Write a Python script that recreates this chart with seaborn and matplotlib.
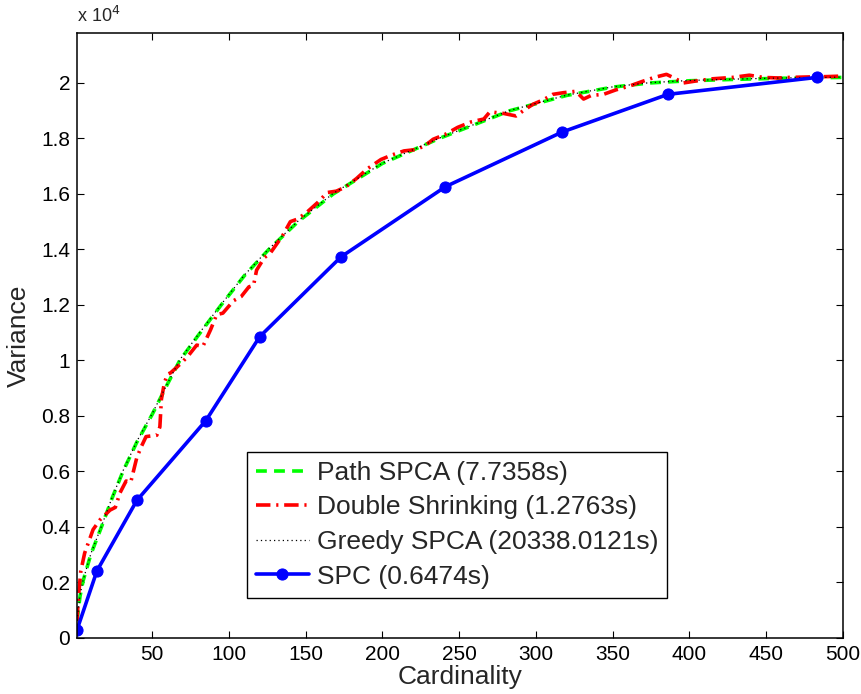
import matplotlib
matplotlib.use("Agg")
import matplotlib.pyplot as plt
import seaborn as sns
import pandas as pd
from matplotlib.ticker import FixedLocator, FixedFormatter

# ---- data ----
path_x = [1, 3, 5, 10, 17, 24, 31, 40, 50, 60, 68, 80, 95, 110, 126, 145, 168, 200, 237, 260, 283, 320, 350, 374, 400, 430, 460, 500]
path_y = [600, 1500, 2050, 3000, 4000, 5050, 6000, 7050, 8050, 9150, 10000, 10900, 12000, 13050, 14000, 15000, 16000, 17100, 18000, 18500, 19000, 19550, 19850, 20000, 20080, 20130, 20170, 20200]

greedy_x = [1, 3, 5, 10, 17, 24, 31, 40, 50, 60, 68, 80, 95, 110, 126, 145, 168, 200, 237, 260, 283, 320, 350, 374, 400, 430, 460, 500]
greedy_y = [620, 1530, 2080, 3020, 4030, 5070, 6020, 7080, 8080, 9170, 10020, 10930, 12020, 13070, 14020, 15020, 16020, 17110, 18010, 18510, 19010, 19560, 19860, 20010, 20090, 20140, 20180, 20210]

ds_x = [1, 2, 3.5, 6, 11.5, 16, 22.5, 26, 29, 33, 36, 40, 43, 46, 50, 53, 55, 56, 58, 60, 62, 66, 70, 74, 79, 83, 88, 92, 96, 103, 108, 113, 116, 118, 123, 127, 135, 140, 144, 150, 158, 164, 170, 176, 183, 190, 199, 206, 214, 222, 228, 233, 241, 249, 258, 266, 270, 279, 287, 293, 298, 305, 311, 318, 326, 331, 336, 344, 352, 361, 369, 377, 385, 390, 396, 404, 415, 428, 439, 448, 458, 465, 480, 490, 500]
ds_y = [600, 1500, 2400, 3050, 3900, 4250, 4600, 4700, 5220, 5650, 5600, 6500, 6900, 7250, 7280, 7300, 7600, 8600, 9200, 9500, 9550, 9750, 9960, 10200, 10550, 10500, 11100, 11650, 11700, 12150, 12300, 12650, 12700, 13250, 13700, 13870, 14500, 15000, 15080, 15300, 15700, 16050, 16100, 16250, 16550, 16900, 17240, 17400, 17550, 17600, 17750, 17970, 18150, 18400, 18600, 18700, 18960, 18900, 18810, 19050, 19230, 19400, 19590, 19650, 19700, 19420, 19550, 19590, 19750, 19890, 20050, 20200, 20310, 20180, 20000, 20070, 20150, 20200, 20280, 20200, 20180, 20200, 20220, 20230, 20250]

spc_x = [1, 14, 40, 85, 120, 173, 241, 317, 386, 483]
spc_y = [280, 2410, 4950, 7830, 10850, 13730, 16260, 18230, 19590, 20200]

labels = ["Path SPCA (7.7358s)", "Double Shrinking (1.2763s)",
          "Greedy SPCA (20338.0121s)", "SPC (0.6474s)"]
x_ticks = [50, 100, 150, 200, 250, 300, 350, 400, 450, 500]
y_ticks = [0, 2000, 4000, 6000, 8000, 10000, 12000, 14000, 16000, 18000, 20000]
y_tick_labels = ["0", "0.2", "0.4", "0.6", "0.8", "1", "1.2", "1.4", "1.6", "1.8", "2"]

# ---- style ----
sns.set_style("ticks")
plt.rcParams["font.family"] = ["Liberation Sans", "DejaVu Sans"]

fig = plt.figure(figsize=(8.61, 6.94), dpi=100)
ax = fig.add_axes([0.0894, 0.0811, 0.8897, 0.8713])

df_path = pd.DataFrame({"x": path_x, "y": path_y})
df_ds = pd.DataFrame({"x": ds_x, "y": ds_y})
df_gr = pd.DataFrame({"x": greedy_x, "y": greedy_y})
df_spc = pd.DataFrame({"x": spc_x, "y": spc_y})

sns.lineplot(data=df_path, x="x", y="y", ax=ax, color=(0, 1, 0), lw=2.6,
             linestyle=(0, (3, 2)), label=labels[0], sort=False, estimator=None)
sns.lineplot(data=df_ds, x="x", y="y", ax=ax, color=(1, 0, 0), lw=2.6,
             linestyle=(0, (4, 1.6, 0.6, 1.6)), label=labels[1], sort=False, estimator=None)
sns.lineplot(data=df_gr, x="x", y="y", ax=ax, color="black", lw=0.9,
             linestyle=(0, (1, 2.5)), label=labels[2], sort=False, estimator=None)
sns.lineplot(data=df_spc, x="x", y="y", ax=ax, color=(0, 0, 1), lw=2.6,
             marker="o", markersize=8, markeredgecolor=(0, 0, 1),
             label=labels[3], sort=False, estimator=None)

ax.set_xlim(1, 500)
ax.set_ylim(0, 21800)
ax.xaxis.set_major_locator(FixedLocator(x_ticks))
ax.yaxis.set_major_locator(FixedLocator(y_ticks))
ax.yaxis.set_major_formatter(FixedFormatter(y_tick_labels))
ax.tick_params(direction="in", length=5, width=0.8, labelsize=15,
               top=True, right=True, colors="black", pad=5)
for s in ax.spines.values():
    s.set_visible(True)
    s.set_linewidth(1.1)
    s.set_color("black")

ax.set_xlabel("Cardinality", fontsize=19, labelpad=1)
ax.set_ylabel("Variance", fontsize=19, labelpad=7)
ax.text(0.0, 1.012, r"x 10$^{4}$", transform=ax.transAxes, fontsize=13,
        ha="left", va="bottom")

leg = ax.legend(loc="lower left", bbox_to_anchor=(0.2215, 0.0661),
                borderaxespad=0, fontsize=19, frameon=True, fancybox=False,
                edgecolor="black", framealpha=1, handlelength=2.0,
                handletextpad=0.3, labelspacing=0.4, borderpad=0.35)
leg.get_frame().set_linewidth(1.0)

fig.savefig("out.png", dpi=100)
